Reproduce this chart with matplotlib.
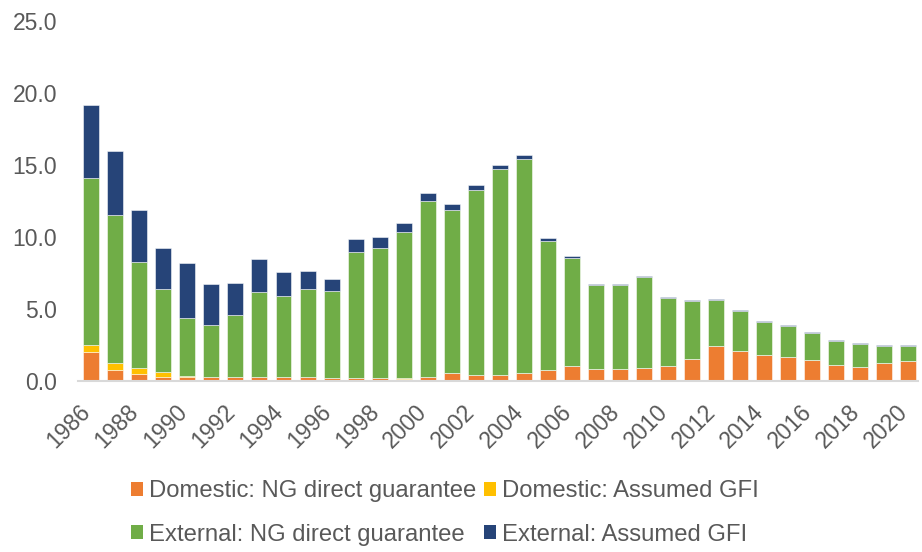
import matplotlib
matplotlib.use("Agg")
import matplotlib.pyplot as plt
import matplotlib.transforms as mtransforms
import numpy as np

years = list(range(1986, 2021))
dom_ng = [2.0, 0.76, 0.5, 0.25, 0.25, 0.28, 0.28, 0.28, 0.28, 0.26, 0.18, 0.22, 0.22, 0.16, 0.28,
          0.53, 0.42, 0.42, 0.58, 0.76, 1.06, 0.85, 0.85, 0.90, 1.02, 1.53, 2.43, 2.1, 1.78, 1.69,
          1.48, 1.14, 1.0, 1.28, 1.37]
dom_gfi = [0.5, 0.5, 0.42, 0.35, 0.08, 0.03, 0.03, 0.02, 0.02, 0.02, 0.02, 0.02, 0.02, 0.02, 0.02,
           0.0, 0.0, 0.0, 0.0, 0.0, 0.0, 0.0, 0.0, 0.0, 0.0, 0.0, 0.0, 0.0, 0.0, 0.0,
           0.0, 0.0, 0.0, 0.0, 0.0]
ext_ng = [11.58, 10.29, 7.34, 5.81, 4.05, 3.6, 4.29, 5.88, 5.58, 6.11, 6.03, 8.72, 9.0, 10.17, 12.2,
          11.37, 12.82, 14.28, 14.84, 8.96, 7.5, 5.79, 5.84, 6.32, 4.76, 4.03, 3.22, 2.78, 2.32, 2.15,
          1.86, 1.66, 1.59, 1.15, 1.08]
ext_gfi = [5.09, 4.4, 3.59, 2.8, 3.82, 2.8, 2.2, 2.29, 1.67, 1.25, 0.85, 0.88, 0.74, 0.6, 0.53,
           0.41, 0.36, 0.32, 0.25, 0.18, 0.12, 0.07, 0.07, 0.07, 0.07, 0.07, 0.04, 0.05, 0.05, 0.05,
           0.04, 0.05, 0.05, 0.05, 0.05]

labels = ["Domestic: NG direct guarantee", "Domestic: Assumed GFI",
          "External: NG direct guarantee", "External: Assumed GFI"]
colors = ["#ED7D31", "#FFC000", "#70AD47", "#264478"]

plt.rcParams['font.family'] = ['Liberation Sans', 'DejaVu Sans']
text_color = "#595959"
fs = 16.5
lfs = 17.2

fig = plt.figure(figsize=(9.22, 5.52), dpi=100)
ax = fig.add_axes([78/922, 1-381/552, (918-78)/922, (381-21)/552])

x = np.arange(len(years))
w = 0.665
series = [dom_ng, dom_gfi, ext_ng, ext_gfi]
bottom = np.zeros(len(years))
handles = []
for vals, c, lab in zip(series, colors, labels):
    v = np.array(vals)
    h = ax.bar(x, v, w, bottom=bottom, color=c, label=lab,
               edgecolor=(1, 1, 1, 0.6), linewidth=0.6)
    handles.append(h)
    bottom += v

ax.set_xlim(-0.55, 34.4)
ax.set_ylim(0, 25)
ax.set_yticks(np.arange(0, 25.1, 5))
ax.set_yticklabels([f"{t:.1f}" for t in np.arange(0, 25.1, 5)])
ax.set_xticks(x[::2])
ax.set_xticklabels([str(y) for y in years[::2]])

for s in ["top", "right", "left"]:
    ax.spines[s].set_visible(False)
ax.spines["bottom"].set_color("#D9D9D9")
ax.spines["bottom"].set_linewidth(1.5)
ax.tick_params(axis='both', length=0, colors=text_color, labelsize=fs)
ax.tick_params(axis='y', pad=15)
ax.tick_params(axis='x', pad=14)

offset = mtransforms.ScaledTranslation(4/100, 0, fig.dpi_scale_trans)
for lbl in ax.get_xticklabels():
    lbl.set_rotation(45)
    lbl.set_ha('right')
    lbl.set_va('top')
    lbl.set_transform(lbl.get_transform() + offset)

order = [0, 2, 1, 3]
leg = fig.legend([handles[i] for i in order], [labels[i] for i in order],
                 ncol=2, loc='center', bbox_to_anchor=(445/922, 1-513/552),
                 frameon=False, fontsize=lfs, handlelength=0.52, handleheight=0.54,
                 handletextpad=0.25, columnspacing=0.32, labelspacing=0.88, borderpad=0)
for t in leg.get_texts():
    t.set_color(text_color)
for p in leg.get_patches():
    p.set_edgecolor('none')

fig.savefig("out.png", dpi=100)
